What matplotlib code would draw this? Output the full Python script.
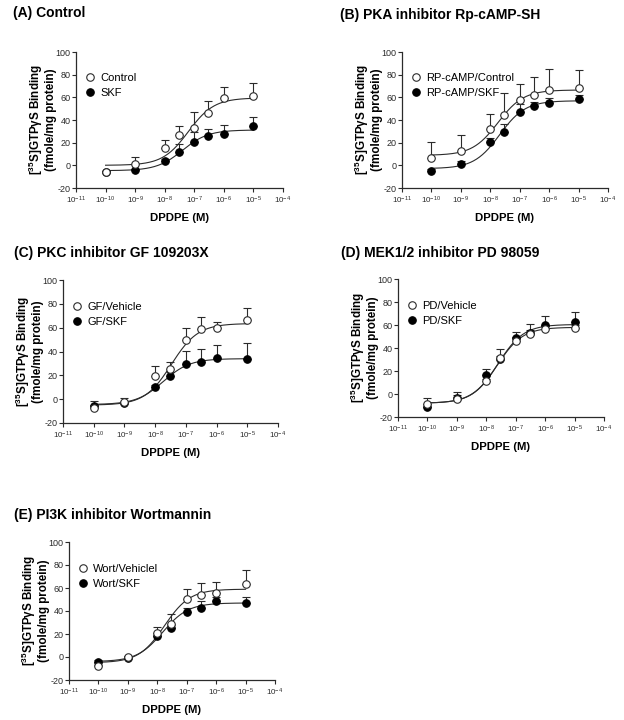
import numpy as np
import matplotlib
matplotlib.use("Agg")
from matplotlib import pyplot as plt

plt.rcParams["font.family"] = ["Liberation Sans", "DejaVu Sans"]
plt.rcParams["mathtext.fontset"] = "custom"
plt.rcParams["mathtext.rm"] = "Liberation Sans"
plt.rcParams["mathtext.bf"] = "Liberation Sans:bold"
plt.rcParams["mathtext.default"] = "regular"
plt.rcParams["axes.unicode_minus"] = False

# DPDPE concentrations (M)
conc = [1e-10, 1e-9, 1e-8, 3e-8, 1e-7, 3e-7, 1e-6, 1e-5]

titles = [
    "(A) Control",
    "(B) PKA inhibitor Rp-cAMP-SH",
    "(C) PKC inhibitor GF 109203X",
    "(D) MEK1/2 inhibitor PD 98059",
    "(E) PI3K inhibitor Wortmannin",
]
open_labels = ["Control", "RP-cAMP/Control", "GF/Vehicle", "PD/Vehicle", "Wort/Vehiclel"]
filled_labels = ["SKF", "RP-cAMP/SKF", "GF/SKF", "PD/SKF", "Wort/SKF"]

# open-circle series (mean, SEM)
open_mean = [
    [-6.1, 1.5, 15.2, 26.9, 33.3, 46.4, 59.0, 61.6],
    [6.4, 12.8, 32.4, 44.0, 57.5, 62.2, 66.3, 68.3],
    [-7.0, -2.2, 19.1, 25.3, 49.4, 58.9, 59.5, 66.5],
    [-9.0, -4.0, 11.3, 31.2, 46.2, 52.5, 56.3, 57.4],
    [-7.6, 0.0, 20.6, 29.0, 50.3, 53.5, 55.8, 63.1],
]
open_sem = [
    [1.0, 5.5, 7.0, 8.1, 13.4, 10.6, 10.2, 11.4],
    [14.0, 14.1, 13.1, 19.4, 14.3, 15.8, 18.7, 16.1],
    [5.3, 2.8, 8.9, 6.1, 10.5, 10.0, 5.0, 9.8],
    [5.8, 5.4, 2.0, 8.3, 3.0, 8.4, 3.0, 3.0],
    [1.0, 1.0, 5.9, 8.8, 9.0, 10.7, 9.6, 12.2],
]
# filled-circle series (mean, SEM)
filled_mean = [
    [-6.0, -3.8, 3.5, 12.0, 21.0, 26.0, 27.7, 34.7],
    [-5.0, 1.5, 20.7, 29.8, 47.3, 52.3, 55.2, 58.7],
    [-6.0, -3.0, 10.1, 19.4, 29.2, 31.4, 34.2, 33.4],
    [-11.0, -3.2, 16.7, 30.3, 48.8, 53.0, 59.7, 62.6],
    [-4.0, -0.5, 18.6, 25.0, 39.2, 42.7, 49.1, 46.8],
]
filled_sem = [
    [1.0, 1.0, 2.0, 7.0, 8.0, 6.4, 7.9, 7.6],
    [2.0, 2.0, 3.0, 7.0, 6.7, 4.0, 4.0, 3.0],
    [1.0, 1.0, 2.0, 3.0, 11.4, 10.9, 11.2, 13.7],
    [2.0, 2.0, 4.9, 3.0, 5.2, 3.0, 8.1, 8.7],
    [1.0, 1.0, 2.0, 3.0, 3.0, 6.0, 3.0, 5.8],
]

# sigmoid fit parameters: bottom, top, logEC50
open_fit = [(0.0, 59.5, -7.2), (8.8, 66.5, -7.74), (-5.0, 63.5, -7.47),
            (-8.0, 58.0, -7.63), (-5.0, 59.0, -7.76)]
filled_fit = [(-4.7, 31.2, -7.4), (-2.9, 57.0, -7.68), (-4.5, 34.0, -7.74),
              (-8.0, 60.5, -7.6), (-4.0, 47.0, -7.82)]

W, H = 624, 720
# axes boxes in pixels: left, top, right, bottom
boxes = [(76, 52, 283, 188), (402, 52, 608, 188), (63, 280, 278, 423),
         (398, 279, 604, 417), (69, 542, 275, 680)]
title_pos = [(13, 13), (340, 15), (14, 253), (341, 253), (14, 515)]

INK = "#2b2b2b"
YLABEL = "[$^{35}$S]GTP\u03b3S Binding\n(fmole/mg protein)"


def sigmoid(logx, bottom, top, logec50):
    return bottom + (top - bottom) / (1 + 10 ** (logec50 - logx))


fig = plt.figure(figsize=(W / 100, H / 100), dpi=100)

for i in range(5):
    l, t, r, b = boxes[i]
    ax = fig.add_axes([l / W, 1 - b / H, (r - l) / W, (b - t) / H])

    logx = np.linspace(-10, -5, 200)
    for fit in (filled_fit[i], open_fit[i]):
        ax.plot(10 ** logx, sigmoid(logx, *fit), color=INK, lw=0.8, zorder=2)

    ax.errorbar(conc, filled_mean[i], yerr=[np.zeros(8), filled_sem[i]], fmt="none",
                ecolor=INK, elinewidth=0.8, capsize=2.6, capthick=0.8, zorder=3)
    ax.errorbar(conc, open_mean[i], yerr=[np.zeros(8), open_sem[i]], fmt="none",
                ecolor=INK, elinewidth=0.8, capsize=2.6, capthick=0.8, zorder=3)
    hf, = ax.plot(conc, filled_mean[i], "o", ms=5.4, mfc="black", mec="black",
                  mew=0.8, ls="none", zorder=4, label=filled_labels[i])
    ho, = ax.plot(conc, open_mean[i], "o", ms=5.4, mfc="white", mec=INK,
                  mew=0.8, ls="none", zorder=5, label=open_labels[i])

    ax.set_xscale("log")
    ax.set_xlim(1e-11, 1e-4)
    ax.set_ylim(-20, 100)
    ax.set_xticks([10.0 ** k for k in range(-11, -3)])
    ax.set_xticklabels([f"$10^{{{k}}}$" for k in range(-11, -3)])
    ax.minorticks_off()
    ax.set_yticks(range(-20, 101, 20))
    ax.tick_params(axis="y", labelsize=6.5, colors=INK, length=3, width=0.8, pad=1)
    ax.tick_params(axis="x", labelsize=5.8, colors=INK, length=3, width=0.8, pad=2)
    for side in ("top", "right"):
        ax.spines[side].set_visible(False)
    for side in ("left", "bottom"):
        ax.spines[side].set_color(INK)
        ax.spines[side].set_linewidth(0.9)

    ax.set_xlabel("DPDPE (M)", fontsize=8.2, fontweight="bold", labelpad=5)
    ax.set_ylabel(YLABEL, fontsize=8.4, fontweight="bold", labelpad=-1, linespacing=0.95)

    ax.legend(handles=[ho, hf], loc="upper left", bbox_to_anchor=(0.0, 0.9),
              frameon=False, fontsize=8, handletextpad=0.3, labelspacing=0.45,
              borderaxespad=0.3, handlelength=1.2)

    tx, ty = title_pos[i]
    fig.text(tx / W, 1 - ty / H, titles[i], fontsize=10, fontweight="bold",
             va="center", ha="left")

fig.savefig("out.png", dpi=100)
